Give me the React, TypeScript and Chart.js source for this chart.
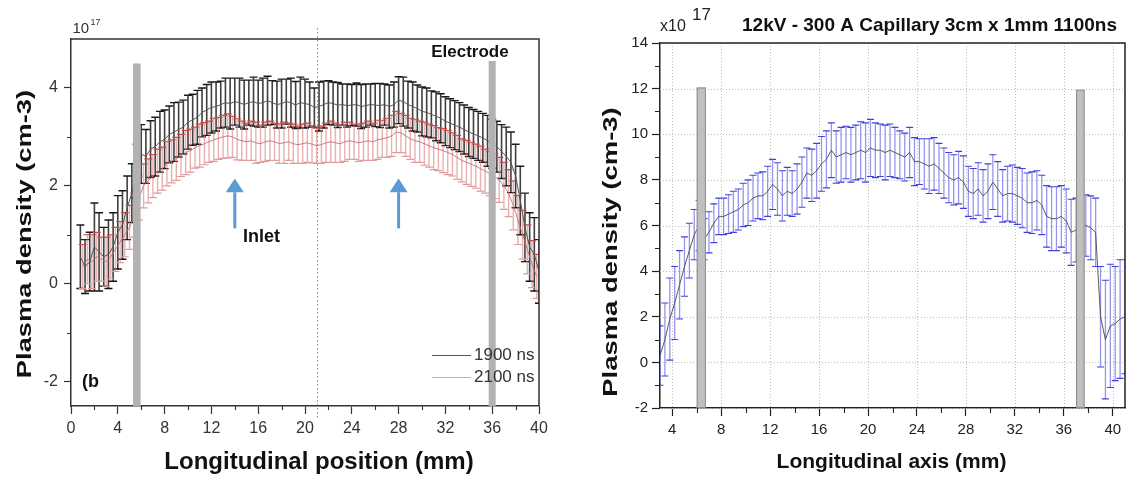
import React, { useEffect, useRef } from "react";
import { Chart, registerables } from "chart.js";

Chart.register(...registerables);

const FONT = 'Arial, "Liberation Sans", Helvetica, sans-serif';

// ================= Left panel (units of 1e17 cm^-3) =================
const LEFT_SERIES_LABELS = ["1900 ns", "2100 ns"];
const POS_1900_START = 0.8;
const POS_2100_START = 1.0;
const POS_STEP_LEFT = 0.4;

const MEAN_1900 = [
  0.55, 0.35, 0.45, 0.75, 0.65, 0.55, 0.6, 0.75, 1.05, 1.2,
  1.55, 1.85, 2.3, 2.65, 2.6, 2.75, 2.8, 2.9, 2.95, 3.05,
  3.1, 3.15, 3.2, 3.3, 3.35, 3.4, 3.5, 3.55, 3.6, 3.62,
  3.66, 3.7, 3.68, 3.72, 3.7, 3.66, 3.7, 3.72, 3.68, 3.7,
  3.74, 3.7, 3.66, 3.68, 3.72, 3.7, 3.65, 3.7, 3.68, 3.66,
  3.6, 3.62, 3.66, 3.7, 3.68, 3.65, 3.66, 3.64, 3.65, 3.66,
  3.62, 3.64, 3.66, 3.65, 3.64, 3.66, 3.62, 3.66, 3.75, 3.72,
  3.66, 3.62, 3.58, 3.52, 3.5, 3.46, 3.42, 3.38, 3.32, 3.28,
  3.24, 3.2, 3.15, 3.1, 3.06, 3.02, 2.98, 2.92, 2.86, 2.8,
  2.7, 2.6, 2.48, 2.2, 1.7, 1.15, 0.75, 0.6, 0.25,
];
const ERR_1900 = [
  0.65, 0.55, 0.6, 0.9, 0.8, 0.6, 0.7, 0.7, 0.75, 0.7,
  0.65, 0.6, 0.55, 0.6, 0.55, 0.58, 0.6, 0.62, 0.6, 0.58,
  0.6, 0.56, 0.55, 0.55, 0.52, 0.55, 0.5, 0.52, 0.52, 0.5,
  0.48, 0.5, 0.52, 0.48, 0.5, 0.5, 0.46, 0.5, 0.48, 0.5,
  0.5, 0.45, 0.48, 0.5, 0.46, 0.5, 0.48, 0.52, 0.5, 0.46,
  0.4, 0.5, 0.48, 0.45, 0.44, 0.46, 0.42, 0.44, 0.42, 0.44,
  0.45, 0.44, 0.42, 0.44, 0.45, 0.42, 0.44, 0.46, 0.48, 0.5,
  0.48, 0.5, 0.48, 0.5, 0.5, 0.48, 0.5, 0.5, 0.5, 0.5,
  0.5, 0.5, 0.5, 0.5, 0.5, 0.5, 0.5, 0.52, 0.5, 0.52,
  0.55, 0.6, 0.62, 0.65, 0.7, 0.7, 0.7, 0.75, 0.65,
];
const MEAN_2100 = [
  0.35, 0.5, 0.45, 0.55, 0.5, 0.45, 0.55, 0.7, 0.85, 1.0,
  1.15, 1.4, 1.75, 2.0, 2.1, 2.2, 2.3, 2.35, 2.45, 2.5,
  2.55, 2.62, 2.68, 2.72, 2.78, 2.82, 2.86, 2.9, 2.94, 2.97,
  3.0, 3.02, 3.0, 2.95, 2.92, 2.9, 2.92, 2.88, 2.86, 2.9,
  2.92, 2.9, 2.86, 2.88, 2.9, 2.86, 2.84, 2.86, 2.88, 2.85,
  2.82, 2.84, 2.88, 2.9, 2.88, 2.86, 2.9, 2.92, 2.9, 2.88,
  2.9, 2.92, 2.9, 2.94, 2.96, 2.98, 3.02, 3.1, 3.08, 3.02,
  2.96, 2.92, 2.9, 2.86, 2.82, 2.78, 2.75, 2.72, 2.68, 2.64,
  2.58, 2.52, 2.48, 2.44, 2.4, 2.35, 2.3, 2.25, 2.2, 2.12,
  2.0, 1.85, 1.6, 1.3, 1.0, 0.7, 0.4, 0.15,
];
const ERR_2100 = [
  0.45, 0.5, 0.55, 0.5, 0.45, 0.5, 0.45, 0.45, 0.42, 0.45,
  0.45, 0.45, 0.45, 0.45, 0.45, 0.44, 0.45, 0.44, 0.45, 0.44,
  0.44, 0.43, 0.45, 0.44, 0.42, 0.44, 0.43, 0.42, 0.44, 0.43,
  0.44, 0.45, 0.42, 0.42, 0.4, 0.38, 0.4, 0.42, 0.38, 0.4,
  0.4, 0.38, 0.4, 0.42, 0.38, 0.4, 0.38, 0.4, 0.4, 0.38,
  0.36, 0.38, 0.4, 0.42, 0.4, 0.38, 0.4, 0.38, 0.36, 0.38,
  0.38, 0.4, 0.38, 0.4, 0.38, 0.4, 0.42, 0.42, 0.4, 0.42,
  0.42, 0.44, 0.42, 0.44, 0.44, 0.45, 0.44, 0.45, 0.45, 0.44,
  0.45, 0.44, 0.45, 0.45, 0.45, 0.46, 0.45, 0.45, 0.46, 0.46,
  0.48, 0.48, 0.5, 0.5, 0.5, 0.5, 0.48, 0.45,
];

const LEFT_X_TICKS = [0, 4, 8, 12, 16, 20, 24, 28, 32, 36, 40];
const LEFT_X_MINOR = [2, 6, 10, 14, 18, 22, 26, 30, 34, 38];
const LEFT_Y_TICKS = [-2, 0, 2, 4];
const LEFT_Y_MINOR = [-1, 1, 3];
const LEFT_ELECTRODE_FROM = [5.3, 35.7];
const LEFT_ELECTRODE_TO = [5.95, 36.3];
const LEFT_ELECTRODE_TOP = [4.5, 4.55];
const INLET_POSITIONS = [14, 28];
const INLET_ARROW_BOTTOM = 1.13;
const INLET_ARROW_HEAD = 1.87;
const INLET_ARROW_TIP = 2.15;
const MID_LINE_X = 21;

// ================= Right panel (units of 1e17 cm^-3) =================
const POS_1100_START = 3.0;
const POS_STEP_RIGHT = 0.4;
const MEAN_1100 = [
  0.3, 1.0, 1.9, 2.6, 3.4, 4.2, 4.9, 5.6, 6.0, 5.4,
  5.7, 6.1, 6.4, 6.4, 6.5, 6.6, 6.7, 6.9, 7.0, 7.2,
  7.3, 7.3, 7.5, 7.8, 7.6, 7.3, 7.5, 7.4, 7.6, 7.9,
  8.3, 8.2, 8.4, 8.7, 8.9, 9.3, 9.0, 9.1, 9.2, 9.1,
  9.2, 9.3, 9.2, 9.4, 9.3, 9.3, 9.2, 9.3, 9.2, 9.1,
  9.0, 9.2, 8.8, 8.8, 8.7, 8.6, 8.7, 8.5, 8.3, 8.1,
  8.0, 8.1, 7.9, 7.5, 7.4, 7.6, 7.3, 7.5, 7.9, 7.6,
  7.3, 7.4, 7.4, 7.3, 7.2, 7.0, 7.0, 7.1, 6.9, 6.4,
  6.3, 6.3, 6.4, 6.2, 5.7, 5.8, 5.9, 6.0, 5.9, 5.7,
  2.0, 1.0, 1.6, 1.7, 1.9, 2.0,
];
const ERR_1100 = [
  1.3, 1.6, 1.8, 1.6, 1.5, 1.3, 1.2, 1.1, 1.1, 0.9,
  0.9, 0.85, 0.8, 0.8, 0.85, 0.9, 0.9, 0.95, 1.0, 1.0,
  1.0, 1.05, 1.1, 1.1, 1.15, 1.1, 1.05, 1.0, 1.1, 1.1,
  1.1, 1.15, 1.2, 1.2, 1.25, 1.2, 1.15, 1.2, 1.15, 1.2,
  1.2, 1.25, 1.3, 1.25, 1.2, 1.15, 1.2, 1.15, 1.1, 1.05,
  1.05, 1.1, 1.05, 1.0, 1.1, 1.2, 1.15, 1.1, 1.1, 1.1,
  1.1, 1.15, 1.15, 1.1, 1.1, 1.15, 1.15, 1.2, 1.2, 1.2,
  1.15, 1.2, 1.25, 1.25, 1.3, 1.3, 1.35, 1.3, 1.3, 1.35,
  1.4, 1.4, 1.35, 1.4, 1.45, 1.4, 1.4, 1.35, 1.4, 1.5,
  2.2, 2.6, 2.7, 2.5, 2.6, 2.5,
];
const RIGHT_X_TICKS = [4, 8, 12, 16, 20, 24, 28, 32, 36, 40];
const RIGHT_X_MINOR = [6, 10, 14, 18, 22, 26, 30, 34, 38];
const RIGHT_Y_TICKS = [-2, 0, 2, 4, 6, 8, 10, 12, 14];
const RIGHT_Y_MINOR = [-1, 1, 3, 5, 7, 9, 11, 13];
const RIGHT_ELECTRODE_FROM = [6.0, 37.0];
const RIGHT_ELECTRODE_TO = [6.75, 37.7];
const RIGHT_ELECTRODE_TOP = [12.05, 11.95];
const RIGHT_TITLE = "12kV - 300 A Capillary 3cm x 1mm 1100ns";

// ================= helpers =================
const toPoints = (start: number, step: number, ys: number[]) =>
  ys.map((y, i) => ({ x: Math.round((start + i * step) * 100) / 100, y }));

type ErrSpec = {
  points: { x: number; y: number }[];
  err: number[];
  lineColor: string;
  lineWidth: number;
  upperCap: string;
  lowerCap: string;
  capWidth: number;
  capHalf: number;
};

function drawErrorBars(chart: any, specs: ErrSpec[]) {
  const { ctx, chartArea: a } = chart;
  const xs = chart.scales.x;
  const ys = chart.scales.y;
  ctx.save();
  ctx.beginPath();
  ctx.rect(a.left, a.top, a.right - a.left, a.bottom - a.top);
  ctx.clip();
  for (const s of specs) {
    ctx.lineWidth = s.lineWidth;
    ctx.strokeStyle = s.lineColor;
    ctx.beginPath();
    s.points.forEach((p, i) => {
      const px = xs.getPixelForValue(p.x);
      ctx.moveTo(px, ys.getPixelForValue(p.y + s.err[i]));
      ctx.lineTo(px, ys.getPixelForValue(p.y - s.err[i]));
    });
    ctx.stroke();
    ctx.lineWidth = s.capWidth;
    ctx.strokeStyle = s.upperCap;
    ctx.beginPath();
    s.points.forEach((p, i) => {
      const px = xs.getPixelForValue(p.x);
      const py = ys.getPixelForValue(p.y + s.err[i]);
      ctx.moveTo(px - s.capHalf, py);
      ctx.lineTo(px + s.capHalf, py);
    });
    ctx.stroke();
    ctx.strokeStyle = s.lowerCap;
    ctx.beginPath();
    s.points.forEach((p, i) => {
      const px = xs.getPixelForValue(p.x);
      const py = ys.getPixelForValue(p.y - s.err[i]);
      ctx.moveTo(px - s.capHalf, py);
      ctx.lineTo(px + s.capHalf, py);
    });
    ctx.stroke();
  }
  ctx.restore();
}

function drawElectrodes(chart: any, from: number[], to: number[], top: number[], fill: string, stroke: string | null) {
  const { ctx, chartArea: a } = chart;
  const xs = chart.scales.x;
  const ys = chart.scales.y;
  ctx.save();
  for (let i = 0; i < from.length; i++) {
    const x1 = xs.getPixelForValue(from[i]);
    const x2 = xs.getPixelForValue(to[i]);
    const y1 = ys.getPixelForValue(top[i]);
    ctx.fillStyle = fill;
    ctx.fillRect(x1, y1, x2 - x1, a.bottom - y1);
    if (stroke) {
      ctx.strokeStyle = stroke;
      ctx.lineWidth = 1;
      ctx.strokeRect(x1 + 0.5, y1 + 0.5, x2 - x1 - 1, a.bottom - y1 - 1);
    }
  }
  ctx.restore();
}

function drawFrameAndMinor(chart: any, xMinor: number[], yMinor: number[], color: string, width: number, len: number) {
  const { ctx, chartArea: a } = chart;
  const xs = chart.scales.x;
  const ys = chart.scales.y;
  ctx.save();
  ctx.strokeStyle = color;
  ctx.lineWidth = width;
  ctx.beginPath();
  ctx.moveTo(a.left, a.top);
  ctx.lineTo(a.right, a.top);
  ctx.lineTo(a.right, a.bottom);
  ctx.stroke();
  ctx.lineWidth = 1.1;
  ctx.beginPath();
  xMinor.forEach((v) => {
    const px = Math.round(xs.getPixelForValue(v)) + 0.5;
    ctx.moveTo(px, a.bottom);
    ctx.lineTo(px, a.bottom + len);
  });
  yMinor.forEach((v) => {
    const py = Math.round(ys.getPixelForValue(v)) + 0.5;
    ctx.moveTo(a.left, py);
    ctx.lineTo(a.left - len, py);
  });
  ctx.stroke();
  ctx.restore();
}

function drawVerticalTitle(ctx: any, text: string, cx: number, cy: number, size: number, stretch: number) {
  ctx.save();
  ctx.translate(cx, cy);
  ctx.rotate(-Math.PI / 2);
  ctx.scale(stretch, 1);
  ctx.font = `bold ${size}px ${FONT}`;
  ctx.fillStyle = "#111";
  ctx.textAlign = "center";
  ctx.textBaseline = "middle";
  ctx.fillText(text, 0, 0);
  ctx.restore();
}

function drawText(ctx: any, text: string, x: number, y: number, font: string, color: string, align = "left", baseline = "alphabetic") {
  ctx.save();
  ctx.font = font;
  ctx.fillStyle = color;
  ctx.textAlign = align;
  ctx.textBaseline = baseline;
  ctx.fillText(text, x, y);
  ctx.restore();
}

// ================= chart configs =================
function leftConfig(): any {
  const p1900 = toPoints(POS_1900_START, POS_STEP_LEFT, MEAN_1900);
  const p2100 = toPoints(POS_2100_START, POS_STEP_LEFT, MEAN_2100);
  const specs: ErrSpec[] = [
    { points: p1900, err: ERR_1900, lineColor: "rgba(30,30,30,0.85)", lineWidth: 1.6, upperCap: "#1a1a1a", lowerCap: "#111", capWidth: 1.4, capHalf: 4 },
    { points: p2100, err: ERR_2100, lineColor: "rgba(215,125,125,0.6)", lineWidth: 1.4, upperCap: "#c84a4a", lowerCap: "#e39a9a", capWidth: 1.2, capHalf: 4 },
  ];
  const decor = {
    id: "leftDecor",
    beforeDatasetsDraw(chart: any) {
      drawErrorBars(chart, specs);
    },
    afterDatasetsDraw(chart: any) {
      drawElectrodes(chart, LEFT_ELECTRODE_FROM, LEFT_ELECTRODE_TO, LEFT_ELECTRODE_TOP, "#b2b2b2", null);
    },
    afterDraw(chart: any) {
      const { ctx, chartArea: a } = chart;
      const xs = chart.scales.x;
      const ys = chart.scales.y;
      drawFrameAndMinor(chart, LEFT_X_MINOR, LEFT_Y_MINOR, "#333", 1.5, 4);
      ctx.save();
      ctx.strokeStyle = "#8a8a8a";
      ctx.lineWidth = 1;
      ctx.setLineDash([1.5, 2.5]);
      const mx = Math.round(xs.getPixelForValue(MID_LINE_X)) + 0.5;
      ctx.beginPath();
      ctx.moveTo(mx, a.top - 11);
      ctx.lineTo(mx, a.bottom + 14);
      ctx.stroke();
      ctx.restore();
      ctx.save();
      ctx.fillStyle = "#5b9bd5";
      ctx.strokeStyle = "#5b9bd5";
      INLET_POSITIONS.forEach((v) => {
        const px = xs.getPixelForValue(v);
        const yb = ys.getPixelForValue(INLET_ARROW_BOTTOM);
        const yh = ys.getPixelForValue(INLET_ARROW_HEAD);
        const yt = ys.getPixelForValue(INLET_ARROW_TIP);
        ctx.lineWidth = 3;
        ctx.beginPath();
        ctx.moveTo(px, yb);
        ctx.lineTo(px, yh);
        ctx.stroke();
        ctx.beginPath();
        ctx.moveTo(px - 9, yh);
        ctx.lineTo(px + 9, yh);
        ctx.lineTo(px, yt);
        ctx.closePath();
        ctx.fill();
      });
      ctx.restore();
      drawText(ctx, "Inlet", xs.getPixelForValue(14.7), ys.getPixelForValue(0.95), `bold 18px ${FONT}`, "#111", "left", "middle");
      drawText(ctx, "Electrode", xs.getPixelForValue(34.1), ys.getPixelForValue(4.72), `bold 17px ${FONT}`, "#111", "center", "middle");
      drawText(ctx, "(b", xs.getPixelForValue(0.94), ys.getPixelForValue(-2), `bold 18px ${FONT}`, "#111", "left", "middle");
      const legendColors = ["#555", "#e3a3a3"];
      LEFT_SERIES_LABELS.forEach((lab, i) => {
        const yy = a.bottom - 51 + i * 22;
        ctx.save();
        ctx.strokeStyle = legendColors[i];
        ctx.lineWidth = 1.2;
        ctx.beginPath();
        ctx.moveTo(a.right - 107, yy + 0.5);
        ctx.lineTo(a.right - 68, yy + 0.5);
        ctx.stroke();
        ctx.restore();
        drawText(ctx, lab, a.right - 65, yy, `17px ${FONT}`, "#333", "left", "middle");
      });
      drawText(ctx, "10", a.left + 1.5, 33, `15px ${FONT}`, "#333");
      drawText(ctx, "17", a.left + 19.5, 25, `9px ${FONT}`, "#333");
      drawVerticalTitle(ctx, "Plasma density (cm-3)", 25, 234, 21, 1.3);
      drawText(ctx, "Longitudinal position (mm)", 319, 462, `bold 24px ${FONT}`, "#111", "center", "middle");
    },
  };
  return {
    type: "line",
    data: {
      datasets: [
        { label: LEFT_SERIES_LABELS[0], data: p1900, borderColor: "#555", borderWidth: 1, pointRadius: 0, tension: 0 },
        { label: LEFT_SERIES_LABELS[1], data: p2100, borderColor: "rgba(200,105,105,0.85)", borderWidth: 1, pointRadius: 0, tension: 0 },
      ],
    },
    options: {
      responsive: false,
      animation: false,
      devicePixelRatio: 1,
      layout: { padding: { top: 39, right: 27, left: 0, bottom: 0 } },
      plugins: { legend: { display: false }, tooltip: { enabled: false } },
      scales: {
        x: {
          type: "linear",
          min: 0,
          max: 40,
          afterBuildTicks: (s: any) => { s.ticks = LEFT_X_TICKS.map((v) => ({ value: v })); },
          afterFit: (s: any) => { s.height = 73; },
          ticks: { font: { family: FONT, size: 16 }, color: "#333", padding: 5, maxRotation: 0 },
          grid: { drawOnChartArea: false, tickLength: 8, tickColor: "#333", tickWidth: 1.2 },
          border: { color: "#333", width: 1.5 },
        },
        y: {
          type: "linear",
          min: -2.5,
          max: 5,
          afterBuildTicks: (s: any) => { s.ticks = LEFT_Y_TICKS.map((v) => ({ value: v })); },
          afterFit: (s: any) => { s.width = 71; },
          ticks: { font: { family: FONT, size: 16 }, color: "#333", padding: 6 },
          grid: { drawOnChartArea: false, tickLength: 7, tickColor: "#333", tickWidth: 1.2 },
          border: { color: "#333", width: 1.5 },
        },
      },
    },
    plugins: [decor],
  };
}

function rightConfig(): any {
  const p1100 = toPoints(POS_1100_START, POS_STEP_RIGHT, MEAN_1100);
  const specs: ErrSpec[] = [
    { points: p1100, err: ERR_1100, lineColor: "rgba(105,105,228,0.7)", lineWidth: 1.3, upperCap: "#4040dc", lowerCap: "#4040dc", capWidth: 1.1, capHalf: 3.5 },
  ];
  const decor = {
    id: "rightDecor",
    beforeDatasetsDraw(chart: any) {
      const { ctx, chartArea: a } = chart;
      const xs = chart.scales.x;
      const ys = chart.scales.y;
      ctx.save();
      ctx.strokeStyle = "#bdbdbd";
      ctx.lineWidth = 1;
      ctx.setLineDash([1, 2]);
      ctx.beginPath();
      RIGHT_X_TICKS.forEach((v) => {
        const px = Math.round(xs.getPixelForValue(v)) + 0.5;
        ctx.moveTo(px, a.top);
        ctx.lineTo(px, a.bottom);
      });
      RIGHT_Y_TICKS.forEach((v) => {
        const py = Math.round(ys.getPixelForValue(v)) + 0.5;
        ctx.moveTo(a.left, py);
        ctx.lineTo(a.right, py);
      });
      ctx.stroke();
      ctx.restore();
      drawErrorBars(chart, specs);
    },
    afterDatasetsDraw(chart: any) {
      drawElectrodes(chart, RIGHT_ELECTRODE_FROM, RIGHT_ELECTRODE_TO, RIGHT_ELECTRODE_TOP, "#c0c0c0", "#8c8c8c");
    },
    afterDraw(chart: any) {
      const { ctx, chartArea: a } = chart;
      drawFrameAndMinor(chart, RIGHT_X_MINOR, RIGHT_Y_MINOR, "#222", 1.5, 5);
      drawText(ctx, "x10", a.left, 31, `16px ${FONT}`, "#222");
      drawText(ctx, "17", a.left + 32, 20, `17px ${FONT}`, "#222");
      drawText(ctx, RIGHT_TITLE, a.left + 82, 31, `bold 19px ${FONT}`, "#111");
      drawVerticalTitle(ctx, "Plasma density (cm-3)", 45, 252, 20, 1.37);
      drawText(ctx, "Longitudinal axis (mm)", 325.5, 462, `bold 21px ${FONT}`, "#111", "center", "middle");
    },
  };
  return {
    type: "line",
    data: {
      datasets: [
        { label: "1100 ns", data: p1100, borderColor: "#4a4a4a", borderWidth: 0.9, pointRadius: 0, tension: 0 },
      ],
    },
    options: {
      responsive: false,
      animation: false,
      devicePixelRatio: 1,
      layout: { padding: { top: 43, right: 7, left: 0, bottom: 0 } },
      plugins: { legend: { display: false }, tooltip: { enabled: false } },
      scales: {
        x: {
          type: "linear",
          min: 3,
          max: 41,
          afterBuildTicks: (s: any) => { s.ticks = RIGHT_X_TICKS.map((v) => ({ value: v })); },
          afterFit: (s: any) => { s.height = 71; },
          ticks: { font: { family: FONT, size: 15 }, color: "#222", padding: 5, maxRotation: 0 },
          grid: { drawOnChartArea: false, tickLength: 8, tickColor: "#222", tickWidth: 1.2 },
          border: { color: "#222", width: 1.5 },
        },
        y: {
          type: "linear",
          min: -2,
          max: 14,
          afterBuildTicks: (s: any) => { s.ticks = RIGHT_Y_TICKS.map((v) => ({ value: v })); },
          afterFit: (s: any) => { s.width = 94; },
          ticks: { font: { family: FONT, size: 15 }, color: "#222", padding: 4 },
          grid: { drawOnChartArea: false, tickLength: 8, tickColor: "#222", tickWidth: 1.2 },
          border: { color: "#222", width: 1.5 },
        },
      },
    },
    plugins: [decor],
  };
}

export default function App() {
  const leftRef = useRef<HTMLCanvasElement>(null);
  const rightRef = useRef<HTMLCanvasElement>(null);
  useEffect(() => {
    const c1 = new Chart(leftRef.current as HTMLCanvasElement, leftConfig());
    const c2 = new Chart(rightRef.current as HTMLCanvasElement, rightConfig());
    return () => {
      c1.destroy();
      c2.destroy();
    };
  }, []);
  return (
    <div style={{ position: "fixed", left: 0, top: 0, width: 1132, height: 479, background: "#fff", overflow: "hidden" }}>
      <canvas ref={leftRef} width={566} height={479} style={{ position: "absolute", left: 0, top: 0, width: 566, height: 479 }} />
      <canvas ref={rightRef} width={566} height={479} style={{ position: "absolute", left: 566, top: 0, width: 566, height: 479 }} />
    </div>
  );
}
